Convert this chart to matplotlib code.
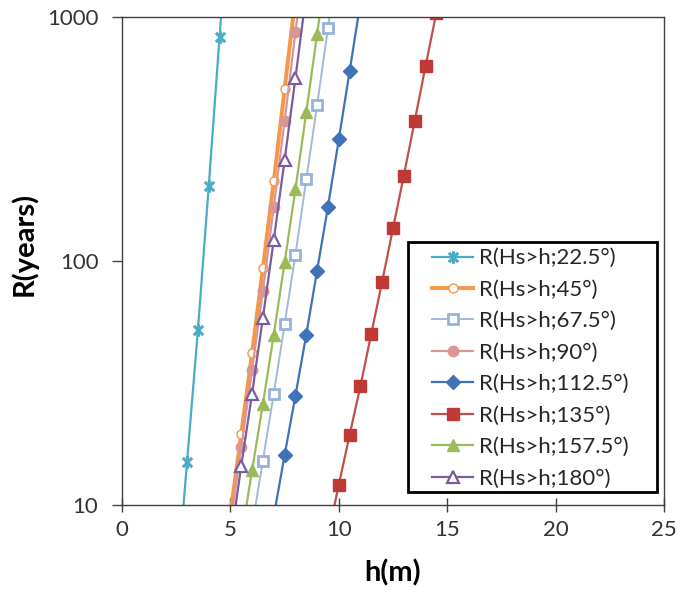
import matplotlib
matplotlib.use("Agg")
import matplotlib.pyplot as plt
from matplotlib.path import Path
from matplotlib.patches import Rectangle

plt.rcParams['font.family'] = ['Lato', 'DejaVu Sans']

# ---- data (h in m, R in years) ----
h_225 = [2.5, 3.0, 3.5, 4.0, 4.5, 5.0]
R_225 = [4.3, 15.0, 52, 202, 828, 3400]

h_45 = [5.0, 5.5, 6.0, 6.5, 7.0, 7.5, 8.0]
R_45 = [9.2, 19.6, 42, 94, 212, 506, 1200]

h_675 = [6.0, 6.5, 7.0, 7.5, 8.0, 8.5, 9.0, 9.5, 10.0]
R_675 = [8.2, 15.2, 28.6, 55, 106, 216, 436, 902, 1900]

h_90 = [5.0, 5.5, 6.0, 6.5, 7.0, 7.5, 8.0, 8.5]
R_90 = [8.3, 17.3, 35.8, 75.7, 167, 374, 867, 2000]

h_1125 = [7.0, 7.5, 8.0, 8.5, 9.0, 9.5, 10.0, 10.5, 11.0]
R_1125 = [9.0, 16.0, 28.1, 49.9, 91.4, 167, 315, 600, 1150]

h_135 = [9.5, 10.0, 10.5, 11.0, 11.5, 12.0, 12.5, 13.0, 13.5, 14.0, 14.5]
R_135 = [7.5, 12.1, 19.4, 30.8, 50.4, 82.4, 136, 224, 374, 629, 1040]

h_1575 = [5.5, 6.0, 6.5, 7.0, 7.5, 8.0, 8.5, 9.0, 9.5]
R_1575 = [7.3, 13.9, 26.0, 49.9, 98.6, 197, 407, 851, 1800]

h_180 = [5.0, 5.5, 6.0, 6.5, 7.0, 7.5, 8.0, 8.5]
R_180 = [7.0, 14.5, 28.6, 58.6, 122, 259, 561, 1250]

labels = ["R(Hs>h;22.5°)", "R(Hs>h;45°)", "R(Hs>h;67.5°)", "R(Hs>h;90°)",
          "R(Hs>h;112.5°)", "R(Hs>h;135°)", "R(Hs>h;157.5°)", "R(Hs>h;180°)"]
x_ticks = [0, 5, 10, 15, 20, 25]
y_ticks = [10, 100, 1000]

# Excel-like star marker (X with vertical bar)
star = Path([(0, -1), (0, 1), (-0.75, -0.75), (0.75, 0.75), (-0.75, 0.75), (0.75, -0.75)],
            [Path.MOVETO, Path.LINETO, Path.MOVETO, Path.LINETO, Path.MOVETO, Path.LINETO])

fig = plt.figure(figsize=(6.78, 5.96), dpi=100)
ax = fig.add_axes([122/678, 1-505/596, (664-122)/678, (505-17)/596])

ax.plot(h_225, R_225, color='#4BACC6', lw=1.6, marker=star, ms=9, mew=2.2,
        mec='#4BACC6', label=labels[0])
ax.plot(h_45, R_45, color='#F79646', lw=2.8, marker='o', ms=6.5, mfc='white',
        mec='#F79646', mew=1.0, label=labels[1])
ax.plot(h_675, R_675, color='#A3B8DD', lw=1.4, marker='s', ms=7, mfc='white',
        mec='#95B3D7', mew=2.0, label=labels[2])
ax.plot(h_90, R_90, color='#D99694', lw=1.6, marker='o', ms=7.5, mfc='#D99694',
        mec='#D99694', label=labels[3])
ax.plot(h_1125, R_1125, color='#3F72B8', lw=1.6, marker='D', ms=7, mfc='#3F72B8',
        mec='#3F72B8', label=labels[4])
ax.plot(h_135, R_135, color='#C0504D', lw=1.6, marker='s', ms=8.5, mfc='#BE3A36',
        mec='#BE3A36', label=labels[5])
ax.plot(h_1575, R_1575, color='#9BBB59', lw=1.6, marker='^', ms=8.5, mfc='#9BBB59',
        mec='#9BBB59', label=labels[6])
ax.plot(h_180, R_180, color='#7A5CA0', lw=1.6, marker='^', ms=8, mfc='white',
        mec='#7A5CA0', mew=1.6, label=labels[7])

ax.set_yscale('log')
ax.set_xlim(0, 25)
ax.set_ylim(10, 1000)
ax.set_xticks(x_ticks)
ax.set_xticklabels([str(t) for t in x_ticks])
ax.set_yticks(y_ticks)
ax.set_yticklabels([str(t) for t in y_ticks])
ax.yaxis.set_minor_locator(matplotlib.ticker.NullLocator())

for s in ax.spines.values():
    s.set_color('#404040')
    s.set_linewidth(1.0)

ax.tick_params(axis='x', direction='inout', length=10, width=1, color='#404040',
               labelsize=16, labelcolor='#333333', pad=6)
ax.tick_params(axis='y', direction='out', length=7, width=1, color='#404040',
               labelsize=16, labelcolor='#333333', pad=10)

ax.set_xlabel('h(m)', fontsize=21, fontweight='bold', labelpad=14)
ax.set_ylabel('R(years)', fontsize=21, fontweight='bold')
ax.yaxis.set_label_coords(-0.155, 0.535)

# legend frame (drawn separately for Excel-like padding)
frame = Rectangle((0.5277, 0.0266), 0.9871 - 0.5277, 0.539 - 0.0266,
                  transform=ax.transAxes, facecolor='white', edgecolor='black',
                  linewidth=2.0, zorder=5, clip_on=False)
ax.add_patch(frame)

leg = ax.legend(loc='upper left', bbox_to_anchor=(0.572, 0.526),
                fontsize=16, frameon=False, handlelength=1.85, handletextpad=0.25,
                labelspacing=0.515, borderpad=0, borderaxespad=0)
leg.set_zorder(6)
for t in leg.get_texts():
    t.set_color('#262626')

fig.savefig('out.png', dpi=100)
